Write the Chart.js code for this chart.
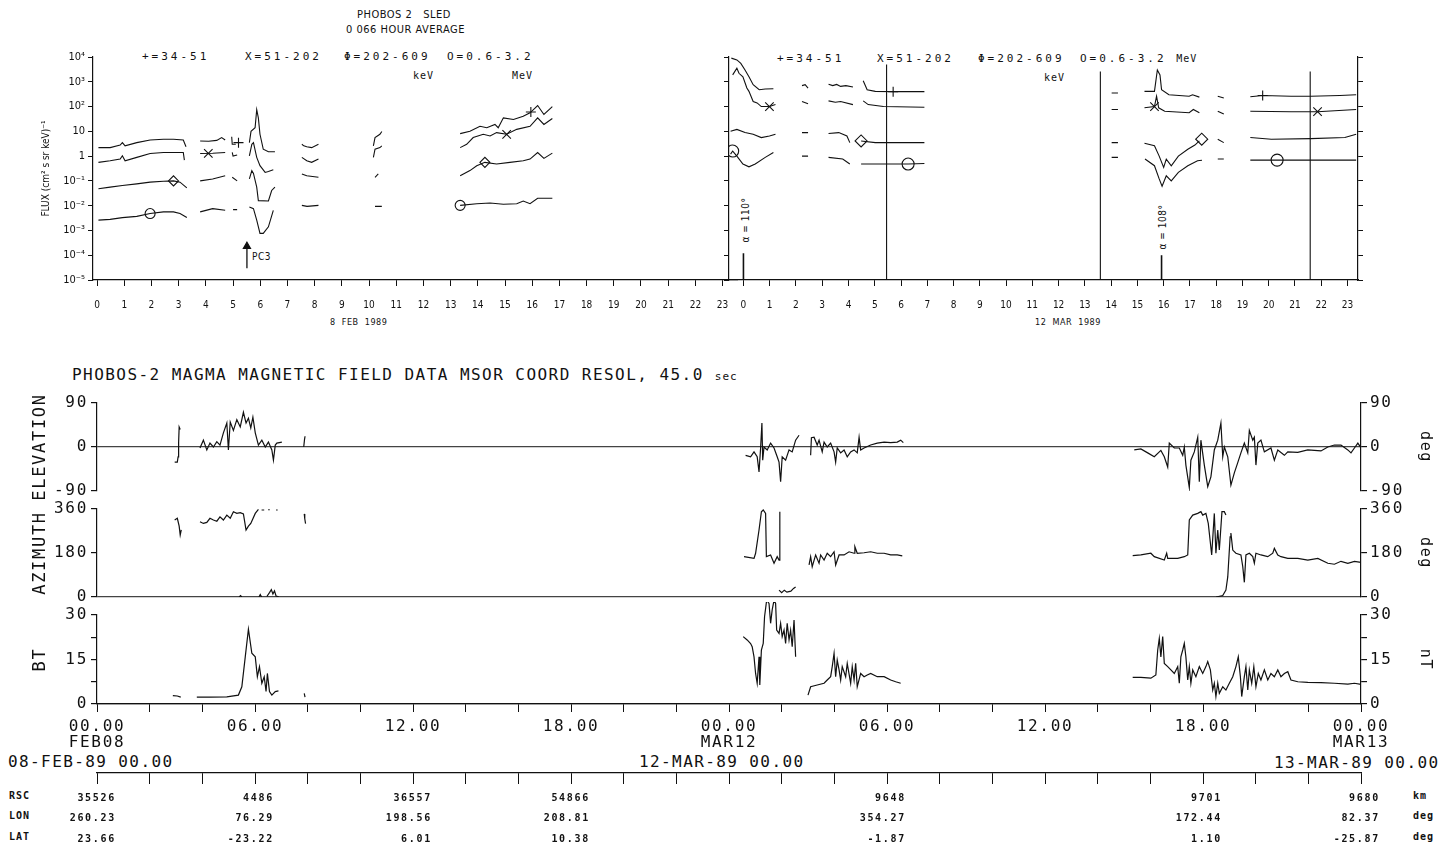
<!DOCTYPE html>
<html>
<head>
<meta charset="utf-8">
<title>PHOBOS 2 SLED / MAGMA</title>
<script src="https://cdn.jsdelivr.net/npm/chart.js@4.4.1/dist/chart.umd.min.js"></script>
<style>
  html, body { margin: 0; padding: 0; background: #fff; }
  body { position: relative; width: 1450px; height: 850px; overflow: hidden; color: #111; }
  .box { position: absolute; }
  .txt { position: absolute; white-space: pre; line-height: 1; }
  .plot { font-family: 'DejaVu Sans Mono', monospace; font-size: 11px; letter-spacing: 3px; }
  .unit { font-family: 'DejaVu Sans Mono', monospace; font-size: 10px; letter-spacing: 1px; }
  .narrow { font-family: 'DejaVu Sans Condensed', 'Liberation Sans Narrow', sans-serif; font-size: 11px; letter-spacing: 0.5px; }
  .mono { font-family: 'DejaVu Sans Mono', monospace; font-size: 16px; letter-spacing: 1.6px; }
  .tab { font-family: 'DejaVu Sans Mono', monospace; font-size: 10px; font-weight: bold; letter-spacing: 1px; }
  .rot { transform: translate(-50%, -50%) rotate(-90deg); }
</style>
</head>
<body>

<div class="txt narrow" style="left:357px;top:9px">PHOBOS 2   SLED</div>
<div class="txt narrow" style="left:346px;top:24px">0 066 HOUR AVERAGE</div>

<div class="txt plot" style="left:142px;top:51px">+=34-51</div>
<div class="txt plot" style="left:245px;top:51px">X=51-202</div>
<div class="txt plot" style="left:344px;top:51px">Φ=202-609</div>
<div class="txt plot" style="left:447px;top:51px">O=0.6-3.2</div>
<div class="txt unit" style="left:413px;top:71px">keV</div>
<div class="txt unit" style="left:512px;top:71px">MeV</div>

<div class="txt plot" style="left:777px;top:53px">+=34-51</div>
<div class="txt plot" style="left:877px;top:53px">X=51-202</div>
<div class="txt plot" style="left:978px;top:53px">Φ=202-609</div>
<div class="txt plot" style="left:1080px;top:53px">O=0.6-3.2 <span class="unit">MeV</span></div>
<div class="txt unit" style="left:1044px;top:73px">keV</div>

<div class="txt narrow" style="left:252px;top:252px;font-size:10px">PC3</div>
<div class="txt narrow rot" style="left:746px;top:220px;font-size:10px">α = 110°</div>
<div class="txt narrow rot" style="left:1163px;top:227px;font-size:10px">α = 108°</div>
<div class="txt narrow" style="left:330px;top:318px;font-size:9px">8  FEB  1989</div>
<div class="txt narrow" style="left:1035px;top:318px;font-size:9px">12  MAR  1989</div>

<div class="txt mono" style="left:72px;top:367px;letter-spacing:1.45px">PHOBOS-2 MAGMA MAGNETIC FIELD DATA MSOR COORD RESOL, 45.0 <span style="font-size:11px;letter-spacing:1px">sec</span></div>

<div class="txt mono" style="left:8px;top:754px;letter-spacing:1.4px">08-FEB-89 00.00</div>
<div class="txt mono" style="left:639px;top:754px;letter-spacing:1.4px">12-MAR-89 00.00</div>
<div class="txt mono" style="left:1274px;top:755px;letter-spacing:1.4px">13-MAR-89 00.00</div>

<div class="txt tab" style="left:9px;top:791px">RSC</div>
<div class="txt tab" style="left:9px;top:811px">LON</div>
<div class="txt tab" style="left:9px;top:832px">LAT</div>
<div class="txt tab" style="left:1413px;top:791px">km</div>
<div class="txt tab" style="left:1413px;top:811px">deg</div>
<div class="txt tab" style="left:1413px;top:832px">deg</div>

<div class="box" style="left:0;top:40px;width:745px;height:300px"><canvas id="sled1"></canvas></div>
<div class="box" style="left:700px;top:40px;width:750px;height:300px"><canvas id="sled2"></canvas></div>
<div class="box" style="left:0;top:390px;width:1450px;height:115px"><canvas id="elev"></canvas></div>
<div class="box" style="left:0;top:496px;width:1450px;height:115px"><canvas id="azim"></canvas></div>
<div class="box" style="left:0;top:602px;width:1450px;height:170px"><canvas id="bt"></canvas></div>
<div class="box" style="left:0;top:762px;width:1450px;height:88px"><canvas id="orbit"></canvas></div>

<script>
(function () {
    'use strict';

    var INK = '#111';

    // ---- SLED: hour ticks and log decades ----
    var hourTicks = [0,1,2,3,4,5,6,7,8,9,10,11,12,13,14,15,16,17,18,19,20,21,22,23];
    var decadeTicks = [1e-5,1e-4,1e-3,1e-2,1e-1,1,10,1e2,1e3,1e4];
    var decadeLabels = ['10⁻⁵','10⁻⁴','10⁻³','10⁻²','10⁻¹','1','10','10²','10³','10⁴'];

    // ---- SLED 8 FEB 1989: [hour, flux], null = gap ----
    var plus1 = [[0.05,2.2],[0.48,2.2],[0.85,2.8],[0.93,3.5],[1.03,2.6],[1.46,3.5],[1.95,4.5],[2.44,4.8],[2.81,4.8],[3.17,4.5],[3.27,2.4],null,
        [3.79,4.1],[4.10,4.0],[4.40,4.3],[4.58,5.6],[4.71,4.5],null,
        [4.95,6.0],[4.97,3.0],[5.10,3.0],null,
        [5.60,3.5],[5.66,10],[5.81,14],[5.87,75],[5.93,35],[5.99,7.6],[6.11,1.9],[6.30,1.5],[6.54,1.5],null,
        [7.53,3.0],[7.60,2.6],[7.71,2.4],[7.89,2.2],[8.14,3.0],null,
        [10.16,2.6],[10.22,5.6],[10.40,7.6],[10.47,9.8],null,
        [13.35,8.1],[13.71,10],[14.08,16],[14.33,14],[14.63,19],[14.75,14],[14.94,35],[15.31,30],[15.67,41],[15.92,56],[16.20,110],[16.43,48],[16.74,100]];
    var cross1 = [[0.05,0.56],[0.48,0.65],[0.85,0.76],[0.93,1.03],[1.03,0.65],[1.46,0.89],[1.95,1.28],[2.44,1.4],[2.93,1.4],[3.17,1.4],[3.21,0.69],null,
        [3.79,1.28],[4.25,1.3],[4.71,1.4],null,
        [4.97,1.4],[5.00,1.0],[5.15,1.1],null,
        [5.60,1.03],[5.69,3.0],[5.75,3.5],[5.87,0.89],[5.99,0.41],[6.18,0.22],[6.30,0.24],[6.48,0.28],null,
        [7.53,0.89],[7.71,0.65],[7.89,0.56],[8.14,0.76],null,
        [10.16,0.89],[10.22,1.9],[10.40,2.2],[10.47,2.6],null,
        [13.35,2.2],[13.59,3.0],[13.83,5.6],[14.20,7.6],[14.45,6.5],[14.69,8.9],[15.06,7.6],[15.43,12],[15.92,16],[16.20,35],[16.43,19],[16.74,33]];
    var phi1 = [[0.05,0.048],[0.48,0.056],[0.93,0.065],[1.46,0.076],[1.95,0.089],[2.44,0.097],[2.81,0.10],[3.05,0.089],[3.30,0.052],null,
        [3.79,0.10],[4.25,0.12],[4.71,0.16],null,
        [4.97,0.14],[5.15,0.10],null,
        [5.60,0.12],[5.69,0.26],[5.75,0.2],[5.87,0.056],[5.93,0.016],[6.30,0.0154],[6.42,0.041],[6.54,0.056],null,
        [7.53,0.19],[7.71,0.16],[8.14,0.14],null,
        [10.22,0.14],[10.34,0.19],null,
        [13.35,0.16],[13.71,0.26],[13.96,0.41],[14.26,0.56],[14.69,0.48],[15.18,0.56],[15.67,0.65],[15.92,0.76],[16.20,1.4],[16.43,0.81],[16.74,1.32]];
    var ring1 = [[0.05,0.0026],[0.48,0.0028],[0.93,0.0033],[1.46,0.0037],[1.95,0.0048],[2.44,0.0056],[2.81,0.0056],[3.05,0.0048],[3.30,0.0033],null,
        [3.79,0.0056],[4.25,0.0076],[4.71,0.0065],null,
        [5.00,0.0069],[5.15,0.0069],null,
        [5.60,0.0089],[5.75,0.0076],[5.87,0.0026],[5.99,0.00076],[6.11,0.00076],[6.30,0.0014],[6.48,0.0065],null,
        [7.53,0.0103],[7.72,0.0094],[8.14,0.0103],null,
        [10.22,0.0094],[10.47,0.0094],null,
        [13.35,0.0103],[13.96,0.012],[14.45,0.0128],[14.94,0.0114],[15.43,0.012],[15.67,0.0154],[15.92,0.012],[16.20,0.020],[16.74,0.020]];
    var plusMk1 = [[5.20,3.5],[15.95,60]];
    var crossMk1 = [[4.09,1.28],[15.06,7.6]];
    var phiMk1 = [[2.81,0.10],[14.26,0.56]];
    var ringMk1 = [[1.95,0.0048],[13.35,0.0103]];
    var pc3Arrow = [[5.51,3e-5],[5.51,2.3e-4]];

    // ---- SLED 12 MAR 1989 ----
    var plus2 = [[-0.46,9000],[-0.25,7600],[-0.10,5500],[0.06,3000],[0.21,1600],[0.37,760],[0.60,480],[0.83,510],[1.14,525],null,
        [2.23,700],[2.35,760],[2.46,560],null,
        [3.24,800],[3.40,700],[3.55,780],[3.70,650],[3.90,700],[4.17,620],null,
        [4.56,1100],[4.71,480],[5.02,410],[5.79,400],[6.89,400],null,
        [14.02,350],[14.26,350],null,
        [15.27,410],[15.65,410],[15.76,3000],[15.86,1900],[15.92,480],[16.20,300],[16.97,260],[17.10,300],[17.36,240],null,
        [18.06,260],[18.29,220],null,
        [19.30,250],[19.77,280],[20.85,260],[21.60,260],[22.71,280],[23.33,300]];
    var cross2 = [[-0.41,1900],[-0.25,3500],[-0.17,2200],[-0.02,1600],[0.13,560],[0.21,410],[0.37,160],[0.52,140],[0.68,100],[0.99,100],[1.22,120],null,
        [2.23,160],[2.46,130],null,
        [3.24,170],[3.50,150],[3.70,160],[4.17,120],null,
        [4.56,170],[4.75,120],[5.33,100],[6.89,94],null,
        [14.02,76],[14.26,76],null,
        [15.27,89],[15.65,100],[15.73,260],[15.81,89],[16.04,65],[16.97,56],[17.13,76],[17.36,56],null,
        [18.06,65],[18.29,50],null,
        [19.30,65],[20.85,62],[21.86,62],[23.33,76]];
    var phi2 = [[-0.49,10],[-0.25,12],[0.06,8.9],[0.37,7.6],[0.68,5.6],[0.99,6.5],[1.22,7.6],null,
        [2.23,8.9],[2.46,8.9],null,
        [3.24,8.2],[3.63,8.9],[3.94,6.5],[4.05,3.5],null,
        [4.48,4.1],[5.02,3.5],[6.89,3.5],null,
        [14.02,3.5],[14.26,3.5],null,
        [15.27,3.3],[15.65,2.6],[15.83,1.0],[16.00,0.35],[16.10,0.76],[16.29,0.41],[16.56,1.0],[16.92,1.9],[17.19,2.8],[17.36,4.1],null,
        [18.06,4.8],[18.29,3.5],null,
        [19.30,5.6],[20.10,4.8],[21.60,5.1],[22.90,5.6],[23.33,7.6]];
    var ring2 = [[-0.49,1.2],[-0.41,1.6],[-0.25,1.0],[-0.02,0.48],[0.21,0.37],[0.45,0.48],[0.83,0.89],[1.14,1.4],null,
        [2.23,1.0],[2.46,1.0],null,
        [3.24,0.89],[3.78,0.76],[4.05,0.48],null,
        [4.48,0.48],[6.27,0.48],[6.89,0.5],null,
        [14.02,0.89],[14.26,0.89],null,
        [15.29,0.76],[15.65,0.41],[15.83,0.12],[15.94,0.061],[16.10,0.16],[16.29,0.10],[16.56,0.22],[16.92,0.41],[17.29,0.65],[17.46,0.68],null,
        [18.06,0.76],[18.29,0.76],null,
        [19.30,0.69],[20.32,0.69],[23.33,0.69]];
    var plusMk2 = [[5.70,400],[19.77,280]];
    var crossMk2 = [[0.99,100],[15.65,100],[21.86,62]];
    var phiMk2 = [[4.48,4.1],[17.45,4.8]];
    var ringMk2 = [[-0.41,1.6],[6.27,0.48],[20.32,0.69]];
    var cutLines2 = [[5.45,5000],[13.59,2600],[21.58,2600]];   // hour, top flux
    var alphaBars2 = [[0.00,1.2e-4],[15.92,1e-4]];

    // ---- MAGMA: hours from 08 FEB 00:00 (day 2 = 12 MAR) ----
    var magTickHours = [0,6,12,18,24,30,36,42,48];
    var magTickTime = ['00.00','06.00','12.00','18.00','00.00','06.00','12.00','18.00','00.00'];
    var magTickDay = ['FEB08','','','','MAR12','','','','MAR13'];
    var magMinorHours = [0,2,4,6,8,10,12,14,16,18,20,22,24,26,28,30,32,34,36,38,40,42,44,46,48];
    var elevTicks = [-90,-45,0,45,90];
    var azimTicks = [0,90,180,270,360];
    var btTicks = [0,7.5,15,22.5,30];

    var elev = [[2.95,-31],[3.05,-31],[3.08,-20],[3.10,10],[3.12,41],[3.16,36],null,
        [3.91,-2],[4.04,14],[4.17,-6],[4.29,8],[4.42,0],[4.55,11],[4.67,4],[4.80,29],[4.93,49],[4.99,-6],[5.06,51],[5.18,34],[5.31,56],[5.44,41],[5.56,71],[5.66,49],[5.75,59],[5.84,39],[5.92,61],[6.01,29],[6.13,4],[6.26,14],[6.39,0],[6.51,10],[6.64,-6],[6.70,-27],[6.77,4],[6.83,8],[7.02,10],null,
        [7.85,0],[7.88,15],[7.90,22],null,
        [24.63,-17],[24.82,-20],[24.95,-10],[25.07,-20],[25.14,-51],[25.20,-2],[25.25,49],[25.28,-27],[25.33,0],[25.45,-6],[25.58,8],[25.71,-2],[25.83,-20],[25.90,-31],[25.96,-71],[26.02,-20],[26.15,-27],[26.28,-6],[26.40,-10],[26.53,14],[26.66,24],null,
        [27.10,-17],[27.13,19],[27.23,20],[27.35,4],[27.42,14],[27.54,-10],[27.61,10],[27.73,0],[27.86,8],[27.99,-10],[28.05,-31],[28.11,-2],[28.24,-12],[28.37,-6],[28.49,-20],[28.62,-10],[28.75,-6],[28.87,-12],[28.94,20],[29.00,-6],[29.13,-2],[29.38,4],[29.63,8],[29.89,10],[30.14,9],[30.39,10],[30.52,14],[30.62,9],null,
        [39.39,-6],[39.64,-4],[39.90,-12],[40.15,-20],[40.40,-7],[40.53,-20],[40.66,-41],[40.72,8],[40.91,-2],[41.10,-2],[41.23,-17],[41.29,0],[41.35,-37],[41.48,-83],[41.54,-27],[41.67,-10],[41.80,20],[41.86,-71],[41.92,14],[42.05,-37],[42.18,-81],[42.30,-61],[42.43,-6],[42.56,14],[42.68,49],[42.75,-20],[42.81,0],[42.94,-20],[43.06,-78],[43.19,-53],[43.32,-32],[43.44,-12],[43.57,8],[43.70,-12],[43.76,34],[43.89,14],[43.95,20],[44.01,-37],[44.08,8],[44.20,14],[44.33,-10],[44.58,-2],[44.71,-27],[44.84,-6],[45.09,-17],[45.22,-10],[45.60,-11],[45.98,-6],[46.48,-8],[46.74,0],[46.99,4],[47.24,4],[47.50,-6],[47.62,-12],[47.75,-2],[47.88,8],[48.00,-2]];

    var azimA = [[2.95,315],[3.05,322],[3.12,290],[3.16,254],[3.20,275],null,
        [3.91,308],[4.04,301],[4.17,305],[4.29,322],[4.42,315],[4.55,310],[4.67,328],[4.80,315],[4.93,335],[5.06,322],[5.18,349],[5.31,342],[5.44,345],[5.56,340],[5.66,274],[5.75,290],[5.84,301],[6.01,342],[6.13,358],null,
        [6.25,356],[6.35,356],null,[6.50,357],[6.56,357],null,[6.80,356],[6.86,356],null,
        [7.87,340],[7.89,320],[7.92,300],null,
        [24.57,165],[24.95,158],[25.01,179],[25.14,274],[25.23,349],[25.30,356],[25.39,342],[25.42,165],[25.58,172],[25.71,138],[25.83,165],[25.90,151],[25.93,349],null,
        [27.04,131],[27.10,165],[27.16,124],[27.29,172],[27.42,138],[27.48,172],[27.61,151],[27.73,179],[27.86,165],[27.99,185],[28.05,131],[28.18,172],[28.37,172],[28.56,185],[28.75,179],[28.78,206],[28.87,179],[29.13,181],[29.38,185],[29.63,179],[29.89,179],[30.14,172],[30.39,172],[30.58,168],null,
        [39.33,169],[39.64,172],[40.02,179],[40.15,165],[40.53,151],[40.62,179],[40.66,158],[41.04,158],[41.29,165],[41.42,172],[41.48,315],[41.61,335],[41.80,342],[41.92,349],[41.99,335],[42.11,342],[42.20,301],[42.33,172],[42.43,342],[42.49,179],[42.56,274],[42.62,192],[42.72,349],[42.81,349],[42.87,335]];
    var azimB = [[5.40,0],[5.45,6],[5.50,0],null,[6.15,0],[6.20,10],[6.25,0],null,
        [6.45,2],[6.55,18],[6.62,30],[6.68,12],[6.74,25],[6.80,4],[6.90,1],null,
        [25.90,28],[26.00,18],[26.10,28],[26.20,20],[26.35,24],[26.45,35],[26.53,41],null,
        [42.50,0],[42.75,6],[42.87,28],[42.94,82],[43.03,246],[43.06,262],[43.13,192],[43.25,179],[43.44,172],[43.51,124],[43.57,60],[43.63,172],[43.76,179],[43.89,165],[43.95,138],[44.01,179],[44.20,172],[44.46,165],[44.65,179],[44.71,199],[44.84,172],[44.96,165],[45.22,158],[45.60,158],[45.98,151],[46.36,158],[46.74,138],[46.99,134],[47.24,146],[47.50,138],[47.75,146],[48.00,142]];

    var bt = [[2.88,2.8],[3.05,2.7],[3.18,2.3],null,
        [3.79,2.3],[4.29,2.3],[4.93,2.4],[5.37,3.0],[5.50,5.8],[5.63,15.9],[5.75,25.2],[5.88,17.1],[6.01,15.9],[6.09,9.2],[6.17,12.6],[6.26,7.0],[6.35,9.2],[6.42,4.2],[6.47,10.3],[6.55,4.2],[6.64,3.0],[6.77,4.2],[6.89,4.4],null,
        [7.87,3.6],[7.90,2.3],null,
        [24.54,22.7],[24.69,21.6],[24.82,20.4],[24.88,19.3],[24.95,15.9],[25.01,10.3],[25.07,7.0],[25.14,15.9],[25.17,6.4],[25.23,18.2],[25.30,20.4],[25.35,29.4],[25.43,35],[25.52,33.9],[25.58,27.2],[25.64,31.7],[25.71,35],[25.77,33.9],[25.81,24.9],[25.90,23.8],[25.96,27.2],[26.02,22.7],[26.09,24.9],[26.15,20.4],[26.21,27.2],[26.28,21.6],[26.34,24.9],[26.40,19.3],[26.47,28.3],[26.53,15.9],null,
        [27.00,3.0],[27.10,5.8],[27.35,6.4],[27.61,7.0],[27.73,8.1],[27.86,9.2],[27.92,12.6],[27.99,17.1],[28.05,9.2],[28.11,14.8],[28.18,11.5],[28.24,8.1],[28.30,12.6],[28.43,9.2],[28.49,13.7],[28.62,7.0],[28.68,12.6],[28.75,8.1],[28.81,13.7],[28.87,5.8],[29.00,10.3],[29.13,9.2],[29.25,9.8],[29.38,10.3],[29.63,9.2],[29.89,9.2],[30.14,8.1],[30.33,7.5],[30.52,7.0],null,
        [39.33,9.0],[39.64,9.0],[40.02,8.7],[40.21,9.8],[40.28,18.2],[40.34,22.1],[40.40,15.9],[40.47,22.7],[40.53,13.7],[40.66,12.6],[40.78,11.5],[40.91,10.3],[41.04,12.6],[41.10,7.0],[41.16,15.9],[41.23,18.2],[41.29,20.4],[41.35,15.9],[41.42,8.1],[41.48,12.6],[41.54,7.0],[41.61,11.5],[41.73,9.2],[41.86,12.6],[41.99,10.3],[42.11,12.6],[42.18,14.3],[42.28,11.5],[42.37,4.7],[42.43,7.0],[42.49,2.5],[42.56,7.0],[42.62,3.6],[42.75,5.8],[42.87,4.7],[43.00,7.0],[43.13,9.2],[43.25,12.6],[43.34,15.9],[43.42,9.2],[43.47,2.5],[43.57,9.2],[43.63,12.6],[43.70,4.7],[43.76,11.5],[43.85,7.0],[43.93,12.6],[44.01,5.8],[44.10,10.3],[44.20,8.1],[44.33,11.5],[44.46,8.1],[44.58,10.3],[44.71,9.2],[44.84,11.5],[44.96,9.2],[45.09,10.3],[45.22,10.9],[45.34,8.1],[45.60,7.5],[45.98,7.3],[46.48,7.2],[46.99,7.0],[47.50,6.7],[47.75,7.0],[48.00,6.6]];

    // ---- orbit table under the time axis ----
    var orbitHours = [0,6,12,18,30,42,48];
    var rscKm = ['35526','4486','36557','54866','9648','9701','9680'];
    var lonDeg = ['260.23','76.29','198.56','208.81','354.27','172.44','82.37'];
    var latDeg = ['23.66','-23.22','6.01','10.38','-1.87','1.10','-25.87'];

    Chart.defaults.color = INK;

    function pts(pairs) {
        var out = [], lastX = 0;
        pairs.forEach(function (p) {
            if (p === null) {
                out.push({ x: lastX + 0.001, y: null });
            } else {
                lastX = p[0];
                out.push({ x: p[0], y: p[1] });
            }
        });
        return out;
    }

    function trace(pairs, extra) {
        var ds = { data: pts(pairs), borderColor: INK, borderWidth: 1.1, pointRadius: 0,
            spanGaps: false, tension: 0, fill: false };
        return Object.assign(ds, extra || {});
    }

    function marks(pairs, style, r) {
        return { data: pts(pairs), showLine: false, pointStyle: style, pointRadius: r,
            borderColor: INK, backgroundColor: 'rgba(0,0,0,0)', borderWidth: 1.1 };
    }

    var sledTickFont = { family: "'DejaVu Sans Condensed', 'Liberation Sans Narrow', sans-serif", size: 10 };
    var sledEdge = { color: INK, width: 1.2 };

    function sledY(width, showLabels, position) {
        return {
            type: 'logarithmic', position: position || 'left', min: 1e-5, max: 1e4,
            afterBuildTicks: function (s) { s.ticks = decadeTicks.map(function (v) { return { value: v }; }); },
            afterFit: function (s) { s.width = width; },
            grid: { drawOnChartArea: false, tickLength: 5, color: INK },
            border: sledEdge,
            ticks: { display: showLabels, padding: 3, font: { family: sledTickFont.family, size: 11 },
                callback: function (v, i) { return decadeLabels[i]; } }
        };
    }

    function sledX(min, max) {
        return {
            type: 'linear', min: min, max: max,
            afterBuildTicks: function (s) { s.ticks = hourTicks.map(function (v) { return { value: v }; }); },
            afterFit: function (s) { s.height = 60; },
            grid: { drawOnChartArea: false, tickLength: 6, color: INK },
            border: sledEdge,
            ticks: { autoSkip: false, maxRotation: 0, minRotation: 0, padding: 13, font: sledTickFont,
                callback: function (v) { return String(v); } }
        };
    }

    var baseOpts = {
        responsive: true, maintainAspectRatio: false, animation: false,
        plugins: { legend: { display: false }, tooltip: { enabled: false } }
    };

    // ---- SLED day 1 ----
    var sled1Sets = [trace(plus1), trace(cross1), trace(phi1), trace(ring1),
        marks(plusMk1, 'cross', 5), marks(crossMk1, 'crossRot', 6), marks(phiMk1, 'rectRot', 5), marks(ringMk1, 'circle', 5),
        trace(pc3Arrow, { pointRadius: [0, 4], pointStyle: 'triangle', pointBackgroundColor: INK, borderWidth: 1.3 })];
    var y1 = sledY(93, true);
    y1.title = { display: true, text: 'FLUX (cm² s sr keV)⁻¹', font: { family: sledTickFont.family, size: 10 },
        padding: { top: 40, bottom: 0 } };
    new Chart(document.getElementById('sled1'), {
        type: 'line',
        data: { datasets: sled1Sets },
        options: Object.assign({}, baseOpts, {
            layout: { padding: { top: 17, right: 8, bottom: 0, left: 0 } },
            scales: { x: sledX(-0.15, 23.53), y: y1 }
        })
    });

    // ---- SLED day 2 ----
    var sled2Sets = [trace(plus2), trace(cross2), trace(phi2), trace(ring2),
        marks(plusMk2, 'cross', 5), marks(crossMk2, 'crossRot', 6), marks(phiMk2, 'rectRot', 6), marks(ringMk2, 'circle', 6)];
    cutLines2.forEach(function (c) { sled2Sets.push(trace([[c[0], 1e-5], [c[0], c[1]]])); });
    alphaBars2.forEach(function (c) { sled2Sets.push(trace([[c[0], 1e-5], [c[0], c[1]]], { borderWidth: 1.6 })); });
    new Chart(document.getElementById('sled2'), {
        type: 'line',
        data: { datasets: sled2Sets },
        options: Object.assign({}, baseOpts, {
            layout: { padding: { top: 17, right: 72, bottom: 0, left: 0 } },
            scales: { x: sledX(-0.55, 23.4), y: sledY(29, false), yr: sledY(20, false, 'right') }
        })
    });

    // ---- MAGMA panels ----
    var magFont = { family: "'DejaVu Sans Mono', monospace", size: 16 };
    var magTitleFont = { family: "'DejaVu Sans Mono', monospace", size: 17 };
    var spacing = {
        id: 'spacing',
        beforeLayout: function (c) { c.ctx.letterSpacing = '1.7px'; },
        beforeDraw: function (c) { c.ctx.letterSpacing = '1.7px'; }
    };

    function magY(ticks, every, position, width, title, titlePad) {
        return {
            type: 'linear', position: position, min: ticks[0], max: ticks[ticks.length - 1],
            afterBuildTicks: function (s) { s.ticks = ticks.map(function (v) { return { value: v }; }); },
            afterFit: function (s) { s.width = width; },
            grid: { drawOnChartArea: position === 'left', tickLength: 6, tickColor: INK, lineWidth: 1.2,
                color: function (ctx) { return ctx.tick && ctx.tick.value === 0 ? '#444' : 'rgba(0,0,0,0)'; } },
            border: { color: INK, width: 1.2 },
            ticks: { padding: 3, font: magFont,
                callback: function (v) { return v % every === 0 ? String(v) : ''; } },
            title: { display: true, text: title, font: position === 'left' ? magTitleFont : { family: magFont.family, size: 15 },
                padding: { top: titlePad, bottom: 0 } }
        };
    }

    function hiddenX() {
        return { type: 'linear', min: 0, max: 48, display: false };
    }

    function magChart(id, sets, ticks, every, leftTitle, rightTitle, xScale, pad) {
        return new Chart(document.getElementById(id), {
            type: 'line',
            data: { datasets: sets },
            plugins: [spacing],
            options: Object.assign({}, baseOpts, {
                layout: { padding: pad },
                scales: {
                    x: xScale,
                    y: magY(ticks, every, 'left', 97, leftTitle, 30),
                    yr: magY(ticks, every, 'right', 89, rightTitle, 16)
                }
            })
        });
    }

    magChart('elev', [trace(elev, { borderWidth: 1.2 })], elevTicks, 90, 'ELEVATION', 'deg', hiddenX(),
        { top: 13, bottom: 14, left: 0, right: 0 });
    magChart('azim', [trace(azimA, { borderWidth: 1.2 }), trace(azimB, { borderWidth: 1.2 })], azimTicks, 180, 'AZIMUTH', 'deg', hiddenX(),
        { top: 13, bottom: 14, left: 0, right: 0 });
    magChart('bt', [trace(bt, { borderWidth: 1.2, clip: false })], btTicks, 15, 'BT', 'nT', {
        type: 'linear', min: 0, max: 48,
        afterBuildTicks: function (s) { s.ticks = magMinorHours.map(function (v) { return { value: v }; }); },
        afterFit: function (s) { s.height = 68; },
        grid: { drawOnChartArea: false, tickLength: 8, color: INK },
        border: { color: INK, width: 1.2 },
        ticks: { autoSkip: false, maxRotation: 0, minRotation: 0, padding: 7,
            font: { family: magFont.family, size: 16, lineHeight: 1.0 },
            callback: function (v) {
                var i = magTickHours.indexOf(v);
                if (i < 0) return '';
                return magTickDay[i] ? [magTickTime[i], magTickDay[i]] : magTickTime[i];
            } }
    }, { top: 13, bottom: 0, left: 0, right: 0 });

    // ---- orbit axis with RSC / LON / LAT values ----
    new Chart(document.getElementById('orbit'), {
        type: 'line',
        data: { datasets: [] },
        plugins: [spacing],
        options: Object.assign({}, baseOpts, {
            layout: { padding: { top: 5, left: 97, right: 89, bottom: 0 } },
            scales: {
                x: {
                    type: 'linear', min: 0, max: 48,
                    afterBuildTicks: function (s) { s.ticks = magMinorHours.map(function (v) { return { value: v }; }); },
                    afterFit: function (s) { s.height = 77; },
                    grid: { drawOnChartArea: false, tickLength: 11, color: INK },
                    border: { color: INK, width: 1.2 },
                    ticks: { autoSkip: false, maxRotation: 0, minRotation: 0, padding: 4, align: 'end', labelOffset: 19,
                        font: { family: magFont.family, size: 10, weight: 'bold', lineHeight: 2.05 },
                        callback: function (v) {
                            var i = orbitHours.indexOf(v);
                            return i < 0 ? '' : [rscKm[i], lonDeg[i], latDeg[i]];
                        } }
                },
                y: { display: false, min: 0, max: 1 }
            }
        })
    });
})();
</script>
</body>
</html>
